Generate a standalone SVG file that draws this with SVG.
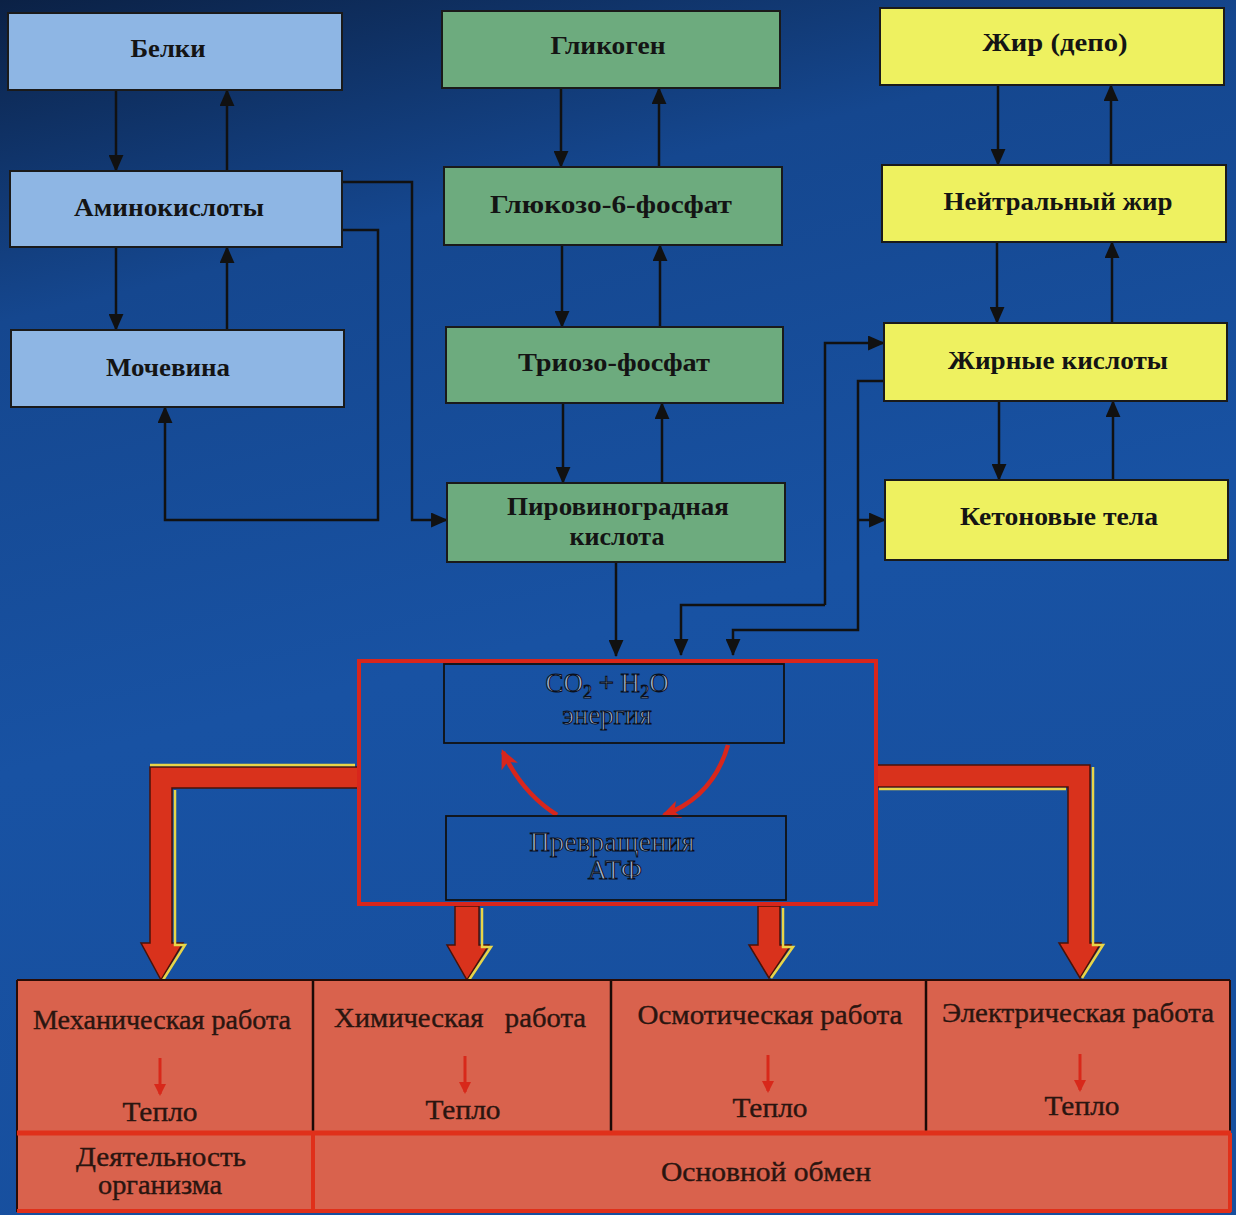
<svg xmlns="http://www.w3.org/2000/svg" width="1236" height="1215" viewBox="0 0 1236 1215">
<defs>
<linearGradient id="bg" x1="0" y1="0" x2="0.25" y2="1">
<stop offset="0" stop-color="#0b2145"/>
<stop offset="0.25" stop-color="#15478f"/>
<stop offset="0.6" stop-color="#1852a3"/>
<stop offset="1" stop-color="#174f9e"/>
</linearGradient>
<marker id="ah" viewBox="0 0 16 14" refX="15" refY="7" markerWidth="17" markerHeight="15" markerUnits="userSpaceOnUse" orient="auto">
<path d="M0,0 L16,7 L0,14 z" fill="#111"/>
</marker>
<marker id="rah" viewBox="0 0 20 20" refX="16" refY="10" markerWidth="20" markerHeight="20" markerUnits="userSpaceOnUse" orient="auto">
<path d="M0,1 L19,10 L0,19 L5,10 z" fill="#d8261c"/>
</marker>
<marker id="sah" viewBox="0 0 12 12" refX="10" refY="6" markerWidth="12" markerHeight="12" markerUnits="userSpaceOnUse" orient="auto">
<path d="M0,0 L12,6 L0,12 z" fill="#d8281a"/>
</marker>
</defs>
<style>
.blue{fill:#8eb6e4;stroke:#1a1a1a;stroke-width:2}
.green{fill:#6dab7e;stroke:#1a1a1a;stroke-width:2}
.yellow{fill:#eef160;stroke:#1a1a1a;stroke-width:2}
.lbl{font-family:"Liberation Serif","DejaVu Serif",serif;font-size:25px;font-weight:bold;fill:#141414;text-anchor:middle}
.blbl{font-family:"Liberation Serif","DejaVu Serif",serif;font-size:28px;fill:#2a1510;stroke:#2a1510;stroke-width:0.4;text-anchor:middle}
.clbl{font-family:"Liberation Serif","DejaVu Serif",serif;font-size:27px;fill:#a6b4cc;stroke:#0a0f1c;stroke-width:1;text-anchor:middle}
.con{fill:none;stroke:#111;stroke-width:2.5;marker-end:url(#ah)}
.thick{fill:#d9321c;stroke:#4a1208;stroke-width:1.5}
.hl{fill:none;stroke:#e8d548;stroke-width:2.5}
.small{stroke:#d8281a;stroke-width:3;marker-end:url(#sah)}
</style>
<rect x="0" y="0" width="1236" height="1215" fill="url(#bg)"/>

<g id="connectors">
<path class="con" d="M116,90 V171"/>
<path class="con" d="M227,171 V90"/>
<path class="con" d="M116,247 V330"/>
<path class="con" d="M227,330 V247"/>
<path class="con" d="M342,182 H412 V520 H447"/>
<path class="con" d="M342,230 H378 V520 H165 V407"/>
<path class="con" d="M561,88 V167"/>
<path class="con" d="M659,167 V88"/>
<path class="con" d="M562,245 V327"/>
<path class="con" d="M660,327 V245"/>
<path class="con" d="M563,403 V483"/>
<path class="con" d="M662,483 V403"/>
<path class="con" d="M616,562 V656"/>
<path class="con" d="M998,85 V165"/>
<path class="con" d="M1111,165 V85"/>
<path class="con" d="M997,242 V323"/>
<path class="con" d="M1112,323 V242"/>
<path class="con" d="M999,401 V480"/>
<path class="con" d="M1113,480 V401"/>
<path class="con" d="M825,605 H681 V655"/>
<path class="con" d="M825,605 V343 H884"/>
<path class="con" d="M884,381 H858 V630 H733 V655"/>
<path class="con" d="M858,520 H885"/>
<path fill="none" stroke="#d8261c" stroke-width="4.5" marker-end="url(#rah)" d="M557,815 Q522,793 503,752"/>
<path fill="none" stroke="#d8261c" stroke-width="4.5" marker-end="url(#rah)" d="M728,745 Q713,797 664,815"/>
<polygon class="thick" points="359,767 150,767 150,943 141,943 161,980 183,943 172,943 172,788 359,788"/>
<polyline class="hl" points="175,790 175,945 185,945 163,980"/>
<polyline class="hl" points="150,765 355,765"/>
<polygon class="thick" points="875,765 1090,765 1090,943 1101,943 1080,978 1059,943 1068,943 1068,787 875,787"/>
<polyline class="hl" points="1093,767 1093,945 1103,945 1082,978"/>
<polyline class="hl" points="879,789 1066,789"/>
<polygon class="thick" points="455,906 479,906 479,945 489,945 467,980 447,945 455,945"/>
<polyline class="hl" points="482,908 482,947 491,947 469,980"/>
<polygon class="thick" points="758,906 780,906 780,945 791,945 769,978 749,945 758,945"/>
<polyline class="hl" points="783,908 783,947 793,947 771,978"/>
</g>

<g id="belki"><rect class="blue" x="8" y="13" width="334" height="77"/><text class="lbl" x="168" y="57" textLength="75" lengthAdjust="spacingAndGlyphs">Белки</text></g>
<g id="aminokisloty"><rect class="blue" x="10" y="171" width="332" height="76"/><text class="lbl" x="169" y="216" textLength="190" lengthAdjust="spacingAndGlyphs">Аминокислоты</text></g>
<g id="mochevina"><rect class="blue" x="11" y="330" width="333" height="77"/><text class="lbl" x="168" y="376" textLength="124" lengthAdjust="spacingAndGlyphs">Мочевина</text></g>

<g id="glikogen"><rect class="green" x="442" y="11" width="338" height="77"/><text class="lbl" x="608" y="54" textLength="115" lengthAdjust="spacingAndGlyphs">Гликоген</text></g>
<g id="glukozo6f"><rect class="green" x="444" y="167" width="338" height="78"/><text class="lbl" x="611" y="213" textLength="242" lengthAdjust="spacingAndGlyphs">Глюкозо-6-фосфат</text></g>
<g id="triozof"><rect class="green" x="446" y="327" width="337" height="76"/><text class="lbl" x="614" y="371" textLength="192" lengthAdjust="spacingAndGlyphs">Триозо-фосфат</text></g>
<g id="piruvat"><rect class="green" x="447" y="483" width="338" height="79"/><text class="lbl" x="618" y="515" textLength="222" lengthAdjust="spacingAndGlyphs">Пировиноградная</text><text class="lbl" x="617" y="545" textLength="95" lengthAdjust="spacingAndGlyphs">кислота</text></g>

<g id="zhir"><rect class="yellow" x="880" y="8" width="344" height="77"/><text class="lbl" x="1055" y="51" textLength="145" lengthAdjust="spacingAndGlyphs">Жир (депо)</text></g>
<g id="neitr"><rect class="yellow" x="882" y="165" width="344" height="77"/><text class="lbl" x="1058" y="210" textLength="229" lengthAdjust="spacingAndGlyphs">Нейтральный жир</text></g>
<g id="zhk"><rect class="yellow" x="884" y="323" width="343" height="78"/><text class="lbl" x="1058" y="369" textLength="220" lengthAdjust="spacingAndGlyphs">Жирные кислоты</text></g>
<g id="keton"><rect class="yellow" x="885" y="480" width="343" height="80"/><text class="lbl" x="1059" y="525" textLength="198" lengthAdjust="spacingAndGlyphs">Кетоновые тела</text></g>

<g id="energy-box">
<rect x="359" y="661" width="517" height="243" fill="none" stroke="#d8261c" stroke-width="4"/>
<rect x="444" y="664" width="340" height="79" fill="none" stroke="#111" stroke-width="1.8"/>
<text class="clbl" x="607" y="692">CO<tspan font-size="18" dy="6">2</tspan><tspan dy="-6"> + H</tspan><tspan font-size="18" dy="6">2</tspan><tspan dy="-6">O</tspan></text>
<text class="clbl" x="607" y="724" font-size="24">энергия</text>
</g>
<g id="atf"><rect x="446" y="816" width="340" height="84" fill="none" stroke="#111" stroke-width="1.8"/>
<text class="clbl" x="612" y="851" textLength="165" lengthAdjust="spacingAndGlyphs">Превращения</text>
<text class="clbl" x="615" y="879">АТФ</text>
</g>

<g id="work-table">
<rect x="17" y="980" width="1213" height="232" fill="#d9624d"/>
<line x1="17" y1="980" x2="1230" y2="980" stroke="#2a0c06" stroke-width="2"/>
<line x1="17" y1="980" x2="17" y2="1212" stroke="#2a0c06" stroke-width="2"/>
<line x1="1230" y1="980" x2="1230" y2="1133" stroke="#2a0c06" stroke-width="2"/>
<line x1="313" y1="981" x2="313" y2="1132" stroke="#1a0a06" stroke-width="2.5"/>
<line x1="611" y1="981" x2="611" y2="1132" stroke="#1a0a06" stroke-width="2.5"/>
<line x1="926" y1="981" x2="926" y2="1132" stroke="#1a0a06" stroke-width="2.5"/>
<line x1="17" y1="1133" x2="1231" y2="1133" stroke="#e0301a" stroke-width="5"/>
<line x1="313" y1="1134" x2="313" y2="1212" stroke="#e0301a" stroke-width="4"/>
<line x1="1230" y1="1133" x2="1230" y2="1212" stroke="#e0301a" stroke-width="4"/>
<line x1="17" y1="1211" x2="1231" y2="1211" stroke="#e0301a" stroke-width="4"/>
</g>
<g id="mech"><text class="blbl" x="162" y="1029" textLength="258" lengthAdjust="spacingAndGlyphs">Механическая работа</text><line class="small" x1="160" y1="1058" x2="160" y2="1094"/><text class="blbl" x="160" y="1121" textLength="75" lengthAdjust="spacingAndGlyphs">Тепло</text></g>
<g id="chem"><text class="blbl" x="460" y="1027" textLength="252" lengthAdjust="spacingAndGlyphs" xml:space="preserve">Химическая   работа</text><line class="small" x1="465" y1="1056" x2="465" y2="1092"/><text class="blbl" x="463" y="1119" textLength="75" lengthAdjust="spacingAndGlyphs">Тепло</text></g>
<g id="osm"><text class="blbl" x="770" y="1024" textLength="265" lengthAdjust="spacingAndGlyphs">Осмотическая работа</text><line class="small" x1="768" y1="1055" x2="768" y2="1091"/><text class="blbl" x="770" y="1117" textLength="75" lengthAdjust="spacingAndGlyphs">Тепло</text></g>
<g id="elec"><text class="blbl" x="1078" y="1022" textLength="272" lengthAdjust="spacingAndGlyphs">Электрическая работа</text><line class="small" x1="1080" y1="1054" x2="1080" y2="1090"/><text class="blbl" x="1082" y="1115" textLength="75" lengthAdjust="spacingAndGlyphs">Тепло</text></g>
<g id="activity"><text class="blbl" x="161" y="1166" textLength="170" lengthAdjust="spacingAndGlyphs">Деятельность</text><text class="blbl" x="160" y="1194" textLength="124" lengthAdjust="spacingAndGlyphs">организма</text></g>
<g id="basal"><text class="blbl" x="766" y="1181" textLength="210" lengthAdjust="spacingAndGlyphs">Основной обмен</text></g>
</svg>
